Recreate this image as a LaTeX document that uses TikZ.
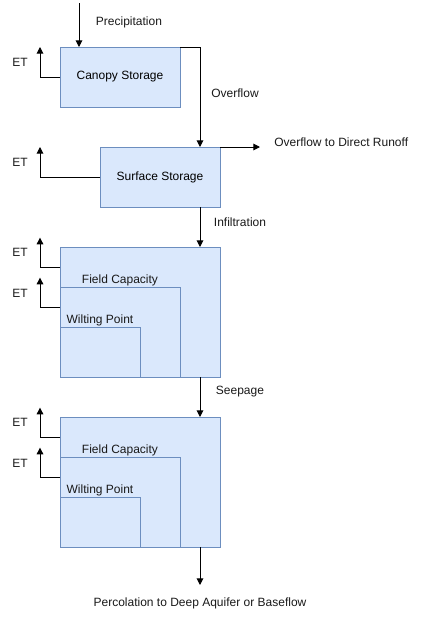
\documentclass[tikz,border=0pt]{standalone}
\usepackage{fontspec}
\setmainfont{Liberation Sans}
\usetikzlibrary{shapes,arrows.meta,positioning}
\definecolor{boxline}{RGB}{108,142,191}
\definecolor{boxfill}{RGB}{218,232,252}
\tikzstyle{store} = [rectangle,draw=boxline,fill=boxfill,line width=0.75pt,inner sep=0pt,outer sep=0pt]
\tikzstyle{arrow} = [color=black,line width=0.75pt,-{Triangle[length=5pt,width=5pt]}]
\tikzstyle{flowtext} = [inner sep=0pt,text=black!90]

\begin{document}
\begin{tikzpicture}[x=0.75pt,y=-0.75pt,font=\fontsize{9}{11}\selectfont]
 	\useasboundingbox (0,0) rectangle (422,618);

 	%canopy and surface
 	\node (canopy) [store,anchor=north west,minimum width=90pt,minimum height=45pt] at (60,47) {Canopy Storage};
 	\node (surface) [store,anchor=north west,minimum width=90pt,minimum height=45pt] at (100,147) {Surface Storage};

 	%soil layer 1
 	\node (soil1) [store,anchor=north west,minimum width=120pt,minimum height=97.5pt] at (60,247) {};
 	\node (fc1) [store,anchor=south west,minimum width=90pt,minimum height=67.5pt] at (soil1.south west) {};
 	\node (wp1) [store,anchor=south west,minimum width=60pt,minimum height=37.5pt] at (soil1.south west) {};
 	\node (fct1) [flowtext,above=0.3pt of fc1] {Field Capacity};
 	\node (wpt1) [flowtext,above=0.3pt of wp1] {Wilting Point};

 	%soil layer 2
 	\node (soil2) [store,anchor=north west,minimum width=120pt,minimum height=97.5pt] at (60,417) {};
 	\node (fc2) [store,anchor=south west,minimum width=90pt,minimum height=67.5pt] at (soil2.south west) {};
 	\node (wp2) [store,anchor=south west,minimum width=60pt,minimum height=37.5pt] at (soil2.south west) {};
 	\node (fct2) [flowtext,above=0.3pt of fc2] {Field Capacity};
 	\node (wpt2) [flowtext,above=0.3pt of wp2] {Wilting Point};

 	%inflow and overflow
 	\coordinate (rain) at (79,3);
 	\coordinate (ovf) at (200,147);
 	\coordinate (run) at (260,147);
 	\coordinate (perc) at (200,585);
 	\draw [arrow] (rain) -- (rain |- canopy.north);
 	\node (raint) [flowtext] at (129,22) {Precipitation};
 	\draw [arrow] (canopy.north east) -| (ovf);
 	\node (ovft) [flowtext] at (235,93) {Overflow};
 	\draw [arrow] (surface.north east) -- (run);
 	\node (runt) [flowtext,anchor=west] at (274,142) {Overflow to Direct Runoff};

 	%vertical fluxes
 	\draw [arrow] (surface.south -| ovf) -- (soil1.north -| ovf);
 	\node (inft) [flowtext] at (240,222) {Infiltration};
 	\draw [arrow] (soil1.south -| ovf) -- (soil2.north -| ovf);
 	\node (seept) [flowtext] at (240,392) {Seepage};
 	\draw [arrow] (soil2.south -| ovf) -- (perc);
 	\node (perct) [flowtext] at (200,603) {Percolation to Deep Aquifer or Baseflow};

 	%ET
 	\coordinate (et1) at (40,47);
 	\coordinate (et2) at (40,147);
 	\coordinate (s1a) at (60,267);
 	\coordinate (s1b) at (60,307);
 	\coordinate (s2a) at (60,437);
 	\coordinate (s2b) at (60,477);
 	\draw [arrow] (canopy.west) -| (et1);
 	\draw [arrow] (surface.west) -| (et2);
 	\draw [arrow] (s1a) -| ([yshift=22pt]s1a -| et1);
 	\draw [arrow] (s1b) -| ([yshift=22pt]s1b -| et1);
 	\draw [arrow] (s2a) -| ([yshift=22pt]s2a -| et1);
 	\draw [arrow] (s2b) -| ([yshift=22pt]s2b -| et1);
 	\node (ett1) [flowtext] at (20,62) {ET};
 	\node (ett2) [flowtext] at (20,162) {ET};
 	\node (ett3) [flowtext] at (20,252) {ET};
 	\node (ett4) [flowtext] at (20,293) {ET};
 	\node (ett5) [flowtext] at (20,422) {ET};
 	\node (ett6) [flowtext] at (20,463) {ET};
 \end{tikzpicture}
\end{document}
